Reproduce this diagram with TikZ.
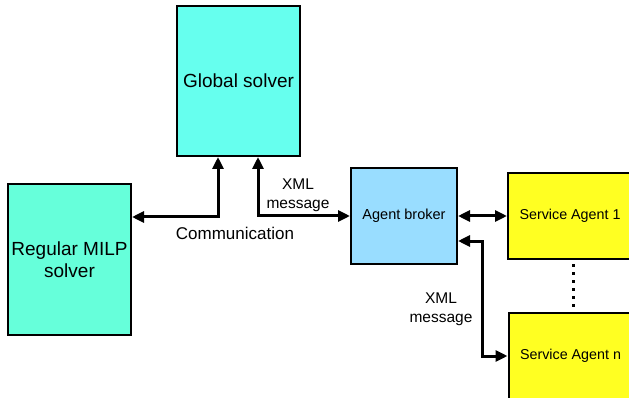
\documentclass[tikz,border=0pt]{standalone}
\usepackage{fontspec}
\setmainfont{Liberation Sans}
\usetikzlibrary{arrows.meta,positioning}
\definecolor{globalfill}{HTML}{66FFEE}
\definecolor{milpfill}{HTML}{66FFDA}
\definecolor{brokerfill}{HTML}{99DDFF}
\definecolor{agentfill}{HTML}{FFFF22}
\tikzset{
  block/.style={draw=black, line width=2pt, align=center, inner sep=0pt},
  solverbox/.style={block, minimum width=123pt, minimum height=150pt,
    font=\fontsize{19}{22}\selectfont},
  brokerbox/.style={block, fill=brokerfill, minimum width=106pt, minimum height=96pt,
    font=\fontsize{14.5}{17}\selectfont},
  agentbox/.style={block, fill=agentfill, minimum width=124pt, minimum height=86pt,
    font=\fontsize{14.3}{17}\selectfont},
  biarr/.style={{Triangle[length=12pt,width=11pt]}-{Triangle[length=12pt,width=11pt]},
    line width=3pt},
  dotline/.style={line width=3pt, dash pattern=on 3pt off 5pt},
  lbl/.style={align=center, font=\fontsize{15.5}{19}\selectfont}
}

\begin{document}
\begin{tikzpicture}[x=1pt,y=-1pt]
  \useasboundingbox (0,0) rectangle (629,398);

  \node[solverbox, fill=globalfill] (global) at (238.5,81) {Global solver};
  \node[solverbox, fill=milpfill] (milp) at (69.5,259.5) {Regular MILP\\solver};
  \node[brokerbox] (broker) at (404,216) {Agent broker};
  \node[agentbox] (agent1) at (570,216) {Service Agent 1};
  \node[agentbox] (agentn) at (570.5,356) {Service Agent n};

  % shared communication line between the solvers
  \coordinate (bus) at (218,217);
  \draw[biarr] (milp.east |- bus) -| ([xshift=-20.5]global.south);
  \draw[biarr] ([xshift=19.5]global.south) |- (broker.west);
  \node[font=\fontsize{17}{20}\selectfont] (comm) at (235,233) {Communication};
  \node[lbl] (xml1) at (298,195) {XML\\message};

  % broker to the service agents
  \draw[biarr] (broker.east) -- (agent1.west);
  \draw[biarr] ([yshift=-25]broker.east) -- ++(24,0) |- (agentn.west);
  \node[lbl] (xml2) at (441,309) {XML\\message};
  \draw[dotline] ([xshift=3,yshift=-4]agent1.south) -- ([xshift=2.5]agentn.north);
\end{tikzpicture}
\end{document}
